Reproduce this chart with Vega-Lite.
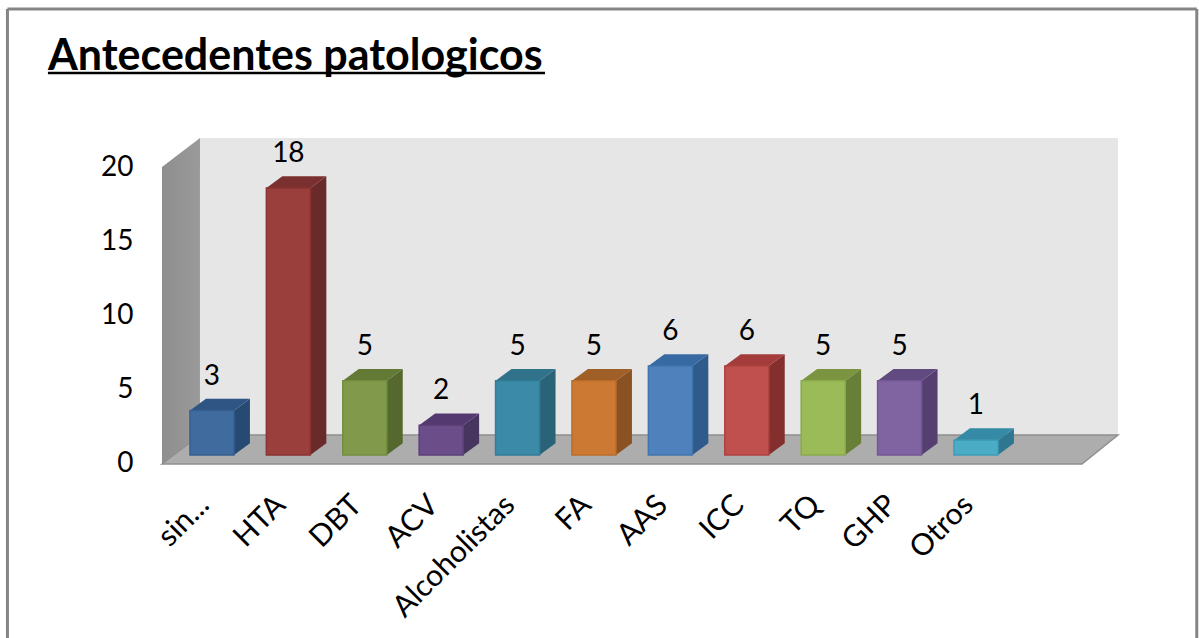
{
"$schema":"https://vega.github.io/schema/vega-lite/v6.json",
"autosize":"none","width":956,"height":326,
"padding":{"left":162,"top":138,"right":81,"bottom":174},
"background":"#ffffff",
"config":{"view":{"stroke":null},"font":"Lato"},
"title":{"text":"Antecedentes patologicos","anchor":"start","frame":"group","dx":-114,"dy":105,"offset":0,"baseline":"alphabetic","font":"Lato","fontSize":43,"fontWeight":"bold","color":"#000000"},
"data":{"values":[
{"cat":"sin...","idx":0,"value":3},
{"cat":"HTA","idx":1,"value":18},
{"cat":"DBT","idx":2,"value":5},
{"cat":"ACV","idx":3,"value":2},
{"cat":"Alcoholistas","idx":4,"value":5},
{"cat":"FA","idx":5,"value":5},
{"cat":"AAS","idx":6,"value":6},
{"cat":"ICC","idx":7,"value":6},
{"cat":"TQ","idx":8,"value":5},
{"cat":"GHP","idx":9,"value":5},
{"cat":"Otros","idx":10,"value":1}
]},
"resolve":{"scale":{"color":"independent","stroke":"independent"}},
"layer":[
{"data":{"values":[{"k":0},{"k":1}]},
 "transform":[{"calculate":"datum.k==0?-0.157:11.859","as":"wx"},{"calculate":"21.375","as":"wt"},{"calculate":"1.349","as":"wb"}],
 "mark":{"type":"area","color":"#e6e6e6"},
 "encoding":{
  "x":{"field":"wx","type":"quantitative","scale":{"domain":[-0.654,11.859],"nice":false,"zero":false},
   "axis":{"values":[0,1,2,3,4,5,6,7,8,9,10],"title":null,"grid":false,"domain":false,"ticks":false,"labelAngle":-45,"labelAlign":"right","labelBaseline":"middle","labelFont":"Lato","labelFontSize":30,"labelColor":"#000000","labelPadding":36,"labelOffset":-8,"labelBound":false,"labelFlush":false,"labelOverlap":false,"labelExpr":"['sin...','HTA','DBT','ACV','Alcoholistas','FA','AAS','ICC','TQ','GHP','Otros'][datum.value]"}},
  "y":{"field":"wt","type":"quantitative","stack":null,"scale":{"domain":[-0.607,21.375],"nice":false,"zero":false},
   "axis":{"values":[0,5,10,15,20],"title":null,"grid":false,"domain":false,"ticks":false,"labelFont":"Lato","labelFontSize":28,"labelColor":"#000000","labelPadding":29,"labelOffset":9,"labelBound":false,"labelFlush":false}},
  "y2":{"field":"wb"}}},
{"data":{"values":[{"k":0},{"k":1}]},
 "transform":[{"calculate":"datum.k==0?-0.654:-0.157","as":"wx"},{"calculate":"datum.k==0?19.42:21.375","as":"wt"},{"calculate":"datum.k==0?-0.607:1.349","as":"wb"}],
 "mark":{"type":"area","color":{"x1":0,"y1":0,"x2":1,"y2":0,"gradient":"linear","stops":[{"offset":0,"color":"#8e8e8e"},{"offset":1,"color":"#9a9a9a"}]}},
 "encoding":{"x":{"field":"wx","type":"quantitative"},"y":{"field":"wt","type":"quantitative","stack":null},"y2":{"field":"wb"}}},
{"data":{"values":[{"k":0},{"k":1},{"k":2},{"k":3}]},
 "transform":[{"calculate":"[-0.654,-0.157,11.387,11.859][datum.k]","as":"wx"},{"calculate":"datum.k==0?-0.607:1.349","as":"wt"},{"calculate":"datum.k==3?1.349:-0.607","as":"wb"}],
 "mark":{"type":"area","color":"#adadad","stroke":"#8f8f8f","strokeWidth":1.5},
 "encoding":{"x":{"field":"wx","type":"quantitative"},"y":{"field":"wt","type":"quantitative","stack":null},"y2":{"field":"wb"}}},
{"transform":[{"calculate":"[0,1]","as":"d"},{"flatten":["d"]},{"calculate":"datum.idx+0.288+datum.d*0.209","as":"sx"},{"calculate":"datum.value+datum.d*0.8","as":"st"},{"calculate":"datum.d*0.8","as":"sb"}],
 "mark":{"type":"area"},
 "encoding":{"x":{"field":"sx","type":"quantitative"},"y":{"field":"st","type":"quantitative","stack":null},"y2":{"field":"sb"},
  "color":{"field":"cat","type":"nominal","legend":null,"scale":{"domain":["sin...","HTA","DBT","ACV","Alcoholistas","FA","AAS","ICC","TQ","GHP","Otros"],"range":["#274a72","#6b2a2a","#55692f","#47345f","#2a6377","#8a5222","#2f5a8c","#842f2e","#687f38","#553f70","#2f7690"]}}}},
{"transform":[{"calculate":"[0,1,2,3]","as":"k"},{"flatten":["k"]},{"calculate":"[datum.idx-0.288,datum.idx-0.079,datum.idx+0.288,datum.idx+0.497][datum.k]","as":"tx"},{"calculate":"datum.k==0?datum.value:datum.value+0.8","as":"tt"},{"calculate":"datum.k==3?datum.value+0.8:datum.value","as":"tb"}],
 "mark":{"type":"area"},
 "encoding":{"x":{"field":"tx","type":"quantitative"},"y":{"field":"tt","type":"quantitative","stack":null},"y2":{"field":"tb"},
  "color":{"field":"cat","type":"nominal","legend":null,"scale":{"domain":["sin...","HTA","DBT","ACV","Alcoholistas","FA","AAS","ICC","TQ","GHP","Otros"],"range":["#2e5583","#7a302e","#627a36","#53396f","#2f7289","#a05f27","#376aa3","#a33c3a","#7a9440","#604a7f","#358aa5"]}}}},
{"transform":[{"calculate":"datum.idx-0.288","as":"xl"},{"calculate":"datum.idx+0.288","as":"xr"},{"calculate":"0","as":"base"}],
 "mark":{"type":"rect","strokeWidth":1.5},
 "encoding":{"x":{"field":"xl","type":"quantitative"},"x2":{"field":"xr"},"y":{"field":"value","type":"quantitative"},"y2":{"field":"base"},
  "color":{"field":"cat","type":"nominal","legend":null,"scale":{"domain":["sin...","HTA","DBT","ACV","Alcoholistas","FA","AAS","ICC","TQ","GHP","Otros"],"range":["#3f6b9f","#9b3f3d","#80994a","#6a4d89","#3b8ba8","#cc7a33","#4f81bd","#c0504d","#9bbb59","#8064a2","#4bacc6"]}},
  "stroke":{"field":"cat","type":"nominal","legend":null,"scale":{"domain":["sin...","HTA","DBT","ACV","Alcoholistas","FA","AAS","ICC","TQ","GHP","Otros"],"range":["#35608f","#8a3331","#73903e","#5b4078","#327d98","#b96d2b","#4274ad","#ae4341","#8cab4b","#725696","#3f9db8"]}}}},
{"mark":{"type":"text","font":"Lato","fontSize":28,"color":"#000000","baseline":"middle","align":"center","dy":-34},
 "encoding":{"x":{"field":"idx","type":"quantitative"},"y":{"field":"value","type":"quantitative"},"text":{"field":"value","type":"quantitative"}}},
{"data":{"values":[{}]},"mark":{"type":"rule","color":"#000000","strokeWidth":2.5},
 "encoding":{"x":{"datum":-2.147,"type":"quantitative"},"x2":{"datum":4.359},"y":{"datum":25.76,"type":"quantitative"}}},
{"data":{"values":[{}]},"mark":{"type":"rule","color":"#858585","strokeWidth":3},
 "encoding":{"x":{"datum":-2.677,"type":"quantitative"},"x2":{"datum":12.89},"y":{"datum":30.07,"type":"quantitative"}}},
{"data":{"values":[{}]},"mark":{"type":"rule","color":"#858585","strokeWidth":3},
 "encoding":{"x":{"datum":-2.677,"type":"quantitative"},"y":{"datum":30.07,"type":"quantitative"},"y2":{"datum":-12.34}}},
{"data":{"values":[{}]},"mark":{"type":"rule","color":"#858585","strokeWidth":3},
 "encoding":{"x":{"datum":12.89,"type":"quantitative"},"y":{"datum":30.07,"type":"quantitative"},"y2":{"datum":-12.34}}}
]
}
